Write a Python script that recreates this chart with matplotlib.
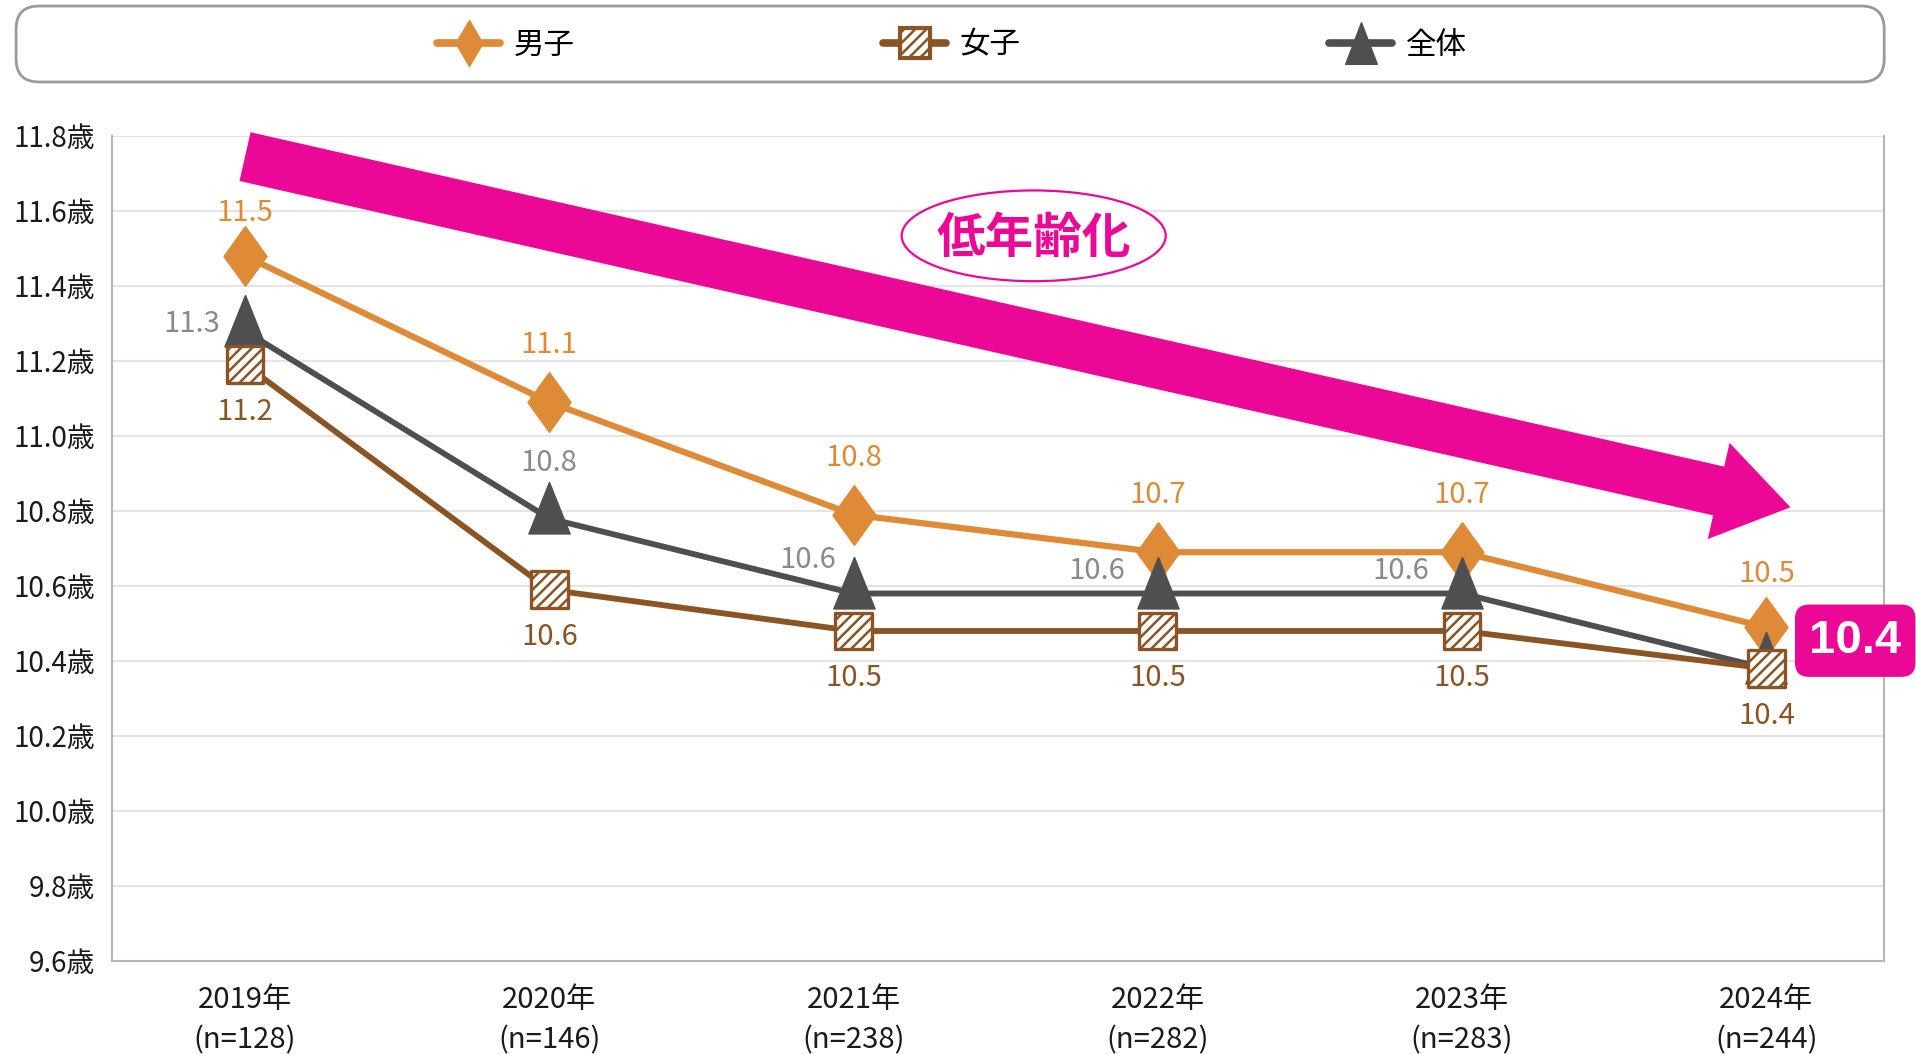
import numpy as np
import matplotlib
matplotlib.use('Agg')
import matplotlib.pyplot as plt
from matplotlib.legend_handler import HandlerBase
from matplotlib.lines import Line2D
from matplotlib.patches import FancyBboxPatch, Rectangle, Ellipse
from matplotlib.ticker import FuncFormatter

plt.rcParams['font.family'] = ['Noto Sans CJK JP', 'DejaVu Sans']

# data
years = ['2019', '2020', '2021', '2022', '2023', '2024']
n_counts = [128, 146, 238, 282, 283, 244]
boys = [11.48, 11.09, 10.79, 10.69, 10.69, 10.49]
girls = [11.19, 10.59, 10.48, 10.48, 10.48, 10.38]
overall = [11.28, 10.78, 10.58, 10.58, 10.58, 10.38]
y_ticks = [9.6, 9.8, 10.0, 10.2, 10.4, 10.6, 10.8, 11.0, 11.2, 11.4, 11.6, 11.8]
series_names = ['男子', '女子', '全体']

# colours
orange = '#DE8A36'
brown = '#8A5424'
gray = '#4F4F52'
gray_txt = '#8A8A8A'
pink = '#EC0896'

plt.rcParams['hatch.color'] = brown
plt.rcParams['hatch.linewidth'] = 1.8


class LegendMarker(HandlerBase):
    # line across the handle with one marker in the middle
    def __init__(self, marker, ms, hatch=None, lw=5.5):
        super().__init__()
        self.marker, self.ms, self.hatch, self.lw = marker, ms, hatch, lw

    def create_artists(self, legend, orig_handle, xdescent, ydescent, width, height, fontsize, trans):
        c = orig_handle.get_color()
        x0, y0 = -xdescent, -ydescent + height / 2
        arts = [Line2D([x0, x0 + width], [y0, y0], color=c, lw=self.lw,
                       solid_capstyle='round', transform=trans)]
        if self.hatch:
            s = self.ms
            arts.append(Rectangle((x0 + width / 2 - s / 2, y0 - s / 2), s, s, fc='white', ec=c,
                                  lw=3, hatch=self.hatch, transform=trans))
        else:
            arts.append(Line2D([x0 + width / 2], [y0], marker=self.marker, ms=self.ms, color=c,
                               ls='none', transform=trans))
        return arts


fig = plt.figure(figsize=(19.16, 10.55), dpi=100)
ax = fig.add_axes([0.0585, 0.0891, 0.925, 0.782])

x = np.arange(len(years))

# custom markers (tall diamond, tall triangle sitting a bit above the point)
diamond = [(0, 1), (0.72, 0), (0, -1), (-0.72, 0), (0, 1)]
triangle = [(0, 0.7), (0.4, -0.3), (-0.4, -0.3), (0, 0.7)]

l_boys, = ax.plot(x, boys, color=orange, lw=4.5, zorder=3)
ax.scatter(x, boys, marker=diamond, s=1850, color=orange, zorder=4)
l_all, = ax.plot(x, overall, color=gray, lw=4.2, zorder=5)
ax.scatter(x, overall, marker=triangle, s=2700, color=gray, zorder=6)
l_girls, = ax.plot(x, girls, color=brown, lw=4.2, zorder=7)
ax.scatter(x, girls, marker='s', s=700, facecolor='white',
           edgecolor=brown, linewidths=2.4, hatch='///', zorder=8)

# value labels
boys_dy = [31, 41, 41, 41, 41, 38]
for i, v in enumerate(boys):
    ax.annotate(f'{v:.1f}', (i, v), xytext=(0, boys_dy[i]), textcoords='offset points',
                ha='center', va='center', fontsize=21, color=orange, zorder=10)
for i, v in enumerate(girls):
    ax.annotate(f'{v:.1f}', (i, v), xytext=(0, -34), textcoords='offset points',
                ha='center', va='center', fontsize=21, color=brown, zorder=10)
gray_off = [(-38, 5), (0, 40), (-33, 24), (-44, 16), (-44, 16)]
for i, v in enumerate(overall[:-1]):
    ax.annotate(f'{v:.1f}', (i, v), xytext=gray_off[i], textcoords='offset points',
                ha='center', va='center', fontsize=21, color=gray_txt, zorder=10)

# highlighted latest overall value
ax.annotate(f'{overall[-1]:.1f}', (x[-1], overall[-1]), xytext=(64, 20),
            textcoords='offset points', ha='center', va='center',
            fontsize=34, fontweight='bold', color='white', family='Liberation Sans',
            bbox=dict(boxstyle='round,pad=0.3,rounding_size=0.3', fc=pink, ec='none'),
            zorder=12, annotation_clip=False)

# big trend arrow + label
ax.annotate('', xy=(0.947, 0.550), xytext=(0.075, 0.975), xycoords='axes fraction',
            arrowprops=dict(arrowstyle='simple,head_length=0.53,head_width=0.71,tail_width=0.36',
                            mutation_scale=100, fc=pink, ec='none', shrinkA=0, shrinkB=0),
            zorder=2)
ax.add_patch(Ellipse((0.52, 0.879), 0.149, 0.110, transform=ax.transAxes,
                     fc='white', ec=pink, lw=1.6, zorder=11))
ax.text(0.52, 0.876, '低年齢化', transform=ax.transAxes, ha='center', va='center',
        fontsize=35, fontweight='bold', color=pink, zorder=11)

# axes styling
ax.set_xlim(-0.437, 5.388)
ax.set_ylim(9.6, 11.8)
ax.set_yticks(y_ticks)
ax.yaxis.set_major_formatter(FuncFormatter(lambda v, p: f'{v:.1f}歳'))
ax.set_xticks(x)
ax.set_xticklabels([f'{y}年\n(n={n})' for y, n in zip(years, n_counts)], linespacing=1.45)
ax.tick_params(axis='y', length=0, pad=12, labelsize=20, labelcolor='#1A1A1A')
ax.tick_params(axis='x', length=0, pad=17, labelsize=21, labelcolor='#1A1A1A')
ax.grid(axis='y', color='#E4E4E4', lw=1.5)
ax.set_axisbelow(True)
for sp in ax.spines.values():
    sp.set_color('#B5B5B5')
    sp.set_linewidth(1.5)
ax.spines['top'].set_visible(False)

# legend with rounded frame across the top
frame = FancyBboxPatch((0.0084, 0.9223), 0.975, 0.072, transform=fig.transFigure,
                       boxstyle='round,pad=0,rounding_size=0.012', fc='white',
                       ec='#9A9A9A', lw=2, mutation_aspect=1916 / 1055)
fig.patches.append(frame)
fig.legend([l_boys, l_girls, l_all], series_names,
           handler_map={l_boys: LegendMarker([(0, 1), (0.59, 0), (0, -1), (-0.59, 0), (0, 1)], 33),
                        l_girls: LegendMarker('s', 21.5, hatch='///'),
                        l_all: LegendMarker([(0, 1), (0.76, -1), (-0.76, -1), (0, 1)], 30)},
           loc='center', bbox_to_anchor=(0.4969, 0.9573), ncol=3, frameon=False,
           fontsize=22, handlelength=2.05, handletextpad=0.45, columnspacing=10.1)

fig.savefig('out.png', dpi=100, facecolor='white')
